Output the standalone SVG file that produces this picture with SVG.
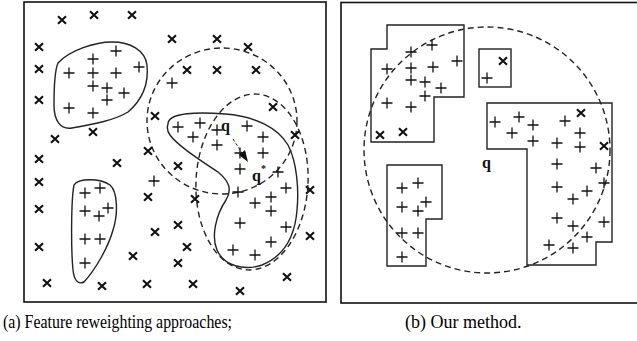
<svg xmlns="http://www.w3.org/2000/svg" xmlns:xlink="http://www.w3.org/1999/xlink" width="637" height="341" viewBox="0 0 637 341">
<style>
.frame{fill:none;stroke:#111;stroke-width:1.6}
.solid{fill:none;stroke:#222;stroke-width:1.4}
.dash{fill:none;stroke:#222;stroke-width:1.4;stroke-dasharray:6 4}
.pl{fill:none;stroke:#111;stroke-width:1.3}
.xm{fill:none;stroke:#111;stroke-width:2.1}
.lbl{font-family:"Liberation Serif",serif;font-weight:bold;font-size:16px;fill:#111}
.cap{font-family:"Liberation Serif",serif;font-size:18px;fill:#000}
</style>
<defs>
<path id="p" d="M-5.5,0H5.5M0,-5.5V5.5" class="pl"/>
<path id="x" d="M-4,-3.8L4,3.8M4,-3.8L-4,3.8" class="xm"/>
</defs>
<rect width="637" height="341" fill="#fff"/>

<g id="panel-a">
<rect class="frame" x="24" y="2" width="302" height="300"/>
<g id="a-shapes">
<path class="solid" d="M58,63 C70,50 95,42 112,42 C130,42 145,50 147,65 C149,85 142,100 128,112 C115,120 95,124 72,128 C60,130 54,120 54,105 C54,90 54,72 58,63 Z"/>
<path class="solid" d="M74,185 C78,178 100,178 110,185 C118,192 118,215 113,230 C108,248 95,270 84,282 C78,285 74,280 73,270 C71,250 71,200 74,185 Z"/>
<path class="solid" d="M168,124 C168,112 200,112 225,114 C255,116 278,128 288,145 C297,162 299,190 297,210 C295,236 284,256 262,265 C244,271 224,266 217,250 C211,236 216,215 226,200 C232,190 230,182 218,172 C200,160 178,146 170,135 C167,131 167,127 168,124 Z"/>
<ellipse class="dash" cx="222" cy="121" rx="75" ry="73"/>
<ellipse class="dash" cx="252" cy="182" rx="56" ry="88" transform="rotate(3 252 182)"/>
<line x1="233" y1="139" x2="242" y2="153" stroke="#222" stroke-width="1" stroke-dasharray="3 2"/>
<polygon points="248,162 239,155 245,150" fill="#111"/>
</g>
<g id="a-x">
<use href="#x" x="62" y="20"/><use href="#x" x="94" y="15"/><use href="#x" x="132" y="15"/>
<use href="#x" x="172" y="39"/><use href="#x" x="217" y="39"/><use href="#x" x="248" y="47"/>
<use href="#x" x="39" y="47"/><use href="#x" x="39" y="69"/><use href="#x" x="39" y="100"/>
<use href="#x" x="187" y="70"/><use href="#x" x="217" y="70"/><use href="#x" x="256" y="70"/>
<use href="#x" x="273" y="107"/><use href="#x" x="155" y="116"/><use href="#x" x="93" y="132"/>
<use href="#x" x="55" y="139"/><use href="#x" x="295" y="135"/>
<use href="#x" x="148" y="151"/><use href="#x" x="39" y="159"/><use href="#x" x="117" y="163"/>
<use href="#x" x="178" y="166"/><use href="#x" x="39" y="182"/>
<use href="#x" x="148" y="197"/><use href="#x" x="195" y="199"/><use href="#x" x="310" y="190"/>
<use href="#x" x="39" y="209"/><use href="#x" x="178" y="225"/>
<use href="#x" x="155" y="232"/><use href="#x" x="310" y="236"/><use href="#x" x="187" y="247"/>
<use href="#x" x="39" y="247"/><use href="#x" x="133" y="256"/><use href="#x" x="178" y="263"/>
<use href="#x" x="287" y="277"/><use href="#x" x="47" y="283"/><use href="#x" x="102" y="286"/>
<use href="#x" x="147" y="284"/><use href="#x" x="193" y="284"/><use href="#x" x="240" y="291"/>
</g>
<g id="a-plus">
<use href="#p" x="116" y="51"/><use href="#p" x="93" y="59"/><use href="#p" x="69" y="73"/>
<use href="#p" x="93" y="73"/><use href="#p" x="116" y="73"/><use href="#p" x="139" y="67"/>
<use href="#p" x="93" y="86"/><use href="#p" x="107" y="88"/><use href="#p" x="124" y="93"/>
<use href="#p" x="107" y="100"/><use href="#p" x="69" y="108"/><use href="#p" x="93" y="113"/>
<use href="#p" x="172" y="83"/><use href="#p" x="154" y="181"/>
<use href="#p" x="85" y="193"/><use href="#p" x="100" y="188"/><use href="#p" x="85" y="211"/>
<use href="#p" x="99" y="216"/><use href="#p" x="108" y="208"/><use href="#p" x="85" y="239"/>
<use href="#p" x="100" y="239"/><use href="#p" x="85" y="263"/>
<use href="#p" x="178" y="127"/><use href="#p" x="200" y="123"/><use href="#p" x="193" y="137"/>
<use href="#p" x="217" y="130"/><use href="#p" x="217" y="145"/><use href="#p" x="247" y="126"/>
<use href="#p" x="263" y="137"/><use href="#p" x="240" y="153"/><use href="#p" x="263" y="153"/>
<use href="#p" x="240" y="169"/><use href="#p" x="278" y="172"/><use href="#p" x="286" y="188"/>
<use href="#p" x="238" y="192"/><use href="#p" x="255" y="203"/><use href="#p" x="271" y="197"/>
<use href="#p" x="271" y="211"/><use href="#p" x="240" y="223"/><use href="#p" x="286" y="227"/>
<use href="#p" x="271" y="242"/><use href="#p" x="233" y="250"/><use href="#p" x="255" y="255"/>
</g>
<text class="lbl" x="221" y="131">q</text>
<text class="lbl" x="252" y="181">q<tspan dy="-9" font-size="10">*</tspan></text>
</g>

<g id="panel-b">
<rect class="frame" x="341" y="2.5" width="300" height="300.5"/>
<g id="b-shapes">
<polygon class="solid" points="387,25 464,25 464,97 434,97 434,142 371,142 371,49 387,49"/>
<rect class="solid" x="479" y="49" width="32" height="38"/>
<polygon class="solid" points="487,103 612,103 612,242 596,242 596,265 527,265 527,149 487,149"/>
<polygon class="solid" points="387,165 442,165 442,219 426,219 426,266 387,266"/>
<circle class="dash" cx="487" cy="150" r="123"/>
</g>
<g id="b-x">
<use href="#x" x="380" y="135"/><use href="#x" x="403" y="132"/><use href="#x" x="503" y="61"/>
<use href="#x" x="581" y="113"/><use href="#x" x="604" y="146"/>
</g>
<g id="b-plus">
<use href="#p" x="432" y="45"/><use href="#p" x="411" y="52"/><use href="#p" x="387" y="69"/>
<use href="#p" x="411" y="68"/><use href="#p" x="433" y="67"/><use href="#p" x="457" y="61"/>
<use href="#p" x="411" y="80"/><use href="#p" x="425" y="82"/><use href="#p" x="441" y="88"/>
<use href="#p" x="425" y="96"/><use href="#p" x="387" y="103"/><use href="#p" x="411" y="107"/>
<use href="#p" x="487" y="78"/>
<use href="#p" x="495" y="122"/><use href="#p" x="519" y="117"/><use href="#p" x="512" y="133"/>
<use href="#p" x="533" y="125"/><use href="#p" x="533" y="141"/><use href="#p" x="565" y="121"/>
<use href="#p" x="580" y="133"/><use href="#p" x="557" y="143"/><use href="#p" x="580" y="147"/>
<use href="#p" x="557" y="164"/><use href="#p" x="596" y="168"/><use href="#p" x="604" y="183"/>
<use href="#p" x="557" y="187"/><use href="#p" x="587" y="191"/><use href="#p" x="573" y="199"/>
<use href="#p" x="557" y="218"/><use href="#p" x="573" y="226"/><use href="#p" x="604" y="222"/>
<use href="#p" x="587" y="237"/><use href="#p" x="549" y="245"/><use href="#p" x="573" y="248"/>
<use href="#p" x="402" y="188"/><use href="#p" x="418" y="183"/><use href="#p" x="402" y="207"/>
<use href="#p" x="418" y="211"/><use href="#p" x="426" y="202"/><use href="#p" x="402" y="233"/>
<use href="#p" x="418" y="233"/><use href="#p" x="402" y="257"/>
</g>
<text class="lbl" x="482" y="168">q</text>
</g>

<g id="captions">
<text class="cap" x="3" y="328" textLength="229" lengthAdjust="spacingAndGlyphs">(a) Feature reweighting approaches;</text>
<text class="cap" x="405" y="328">(b) Our method.</text>
</g>
</svg>
